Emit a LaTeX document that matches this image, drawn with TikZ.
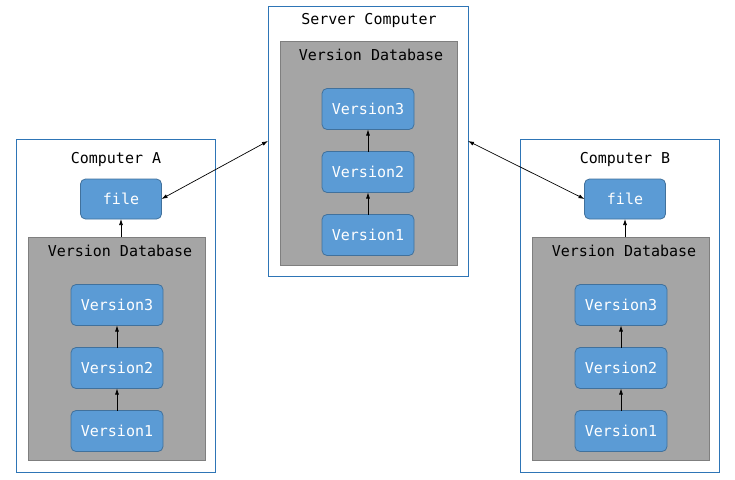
\documentclass[tikz,border=0pt]{standalone}
\usepackage{fontspec}
\setmonofont{DejaVu Sans Mono}
\usetikzlibrary{arrows.meta,positioning}

\definecolor{machineblue}{HTML}{2E75B6}
\definecolor{versionfill}{HTML}{5B9BD5}
\definecolor{versionline}{HTML}{41719C}
\definecolor{dbfill}{HTML}{A5A5A5}
\definecolor{dbline}{HTML}{7F7F7F}

\begin{document}
\begin{tikzpicture}[
    x=1pt, y=-1pt,
    node distance=22pt,
    every node/.style={font=\ttfamily\fontsize{15}{18}\selectfont, outer sep=0pt},
    machine/.style={
      rectangle, draw=machineblue, line width=0.8pt, fill=white,
      anchor=north west, minimum width=200pt
    },
    vdb/.style={
      rectangle, draw=dbline, line width=0.8pt, fill=dbfill,
      anchor=north west, minimum width=177pt
    },
    version/.style={
      rectangle, rounded corners=5pt, draw=versionline, line width=0.8pt,
      fill=versionfill, text=white, minimum width=92pt, minimum height=41pt,
      inner sep=0pt
    },
    link/.style={-{Latex[length=6pt,width=4pt]}, line width=0.7pt, draw=black},
    sync/.style={{Latex[length=6pt,width=4pt]}-{Latex[length=6pt,width=4pt]}, line width=0.7pt, draw=black}
  ]
    \useasboundingbox (0,0) rectangle (735,479);

    % server
    \node[machine, minimum height=270pt] (server) at (268,6) {};
    \node (servertitle) at (369,20) {Server Computer};
    \node[vdb, minimum height=224pt] (serverdb) at (280,41) {};
    \node (serverdbtitle) at (371,55) {Version Database};
    \node[version] (sv1) at (368,235) {Version1};
    \node[version, above=of sv1] (sv2) {Version2};
    \node[version, above=of sv2] (sv3) {Version3};
    \draw[link] (sv1) -- (sv2);
    \draw[link] (sv2) -- (sv3);

    % computer A
    \node[machine, minimum width=199pt, minimum height=333pt] (compA) at (16,139) {};
    \node (compAtitle) at (116,159) {Computer A};
    \node[version, minimum width=81pt, minimum height=40pt] (fileA) at (121,199) {file};
    \node[vdb, minimum height=223pt] (dbA) at (28,237) {};
    \node (dbAtitle) at (120,251) {Version Database};
    \node[version] (av1) at (117,431) {Version1};
    \node[version, above=of av1] (av2) {Version2};
    \node[version, above=of av2] (av3) {Version3};
    \draw[link] (av1) -- (av2);
    \draw[link] (av2) -- (av3);
    \draw[link] (fileA |- dbA.north) -- (fileA);

    % computer B
    \node[machine, minimum width=199pt, minimum height=333pt] (compB) at (520,139) {};
    \node (compBtitle) at (625,159) {Computer B};
    \node[version, minimum width=81pt, minimum height=40pt] (fileB) at (625,199) {file};
    \node[vdb, minimum height=223pt] (dbB) at (532,237) {};
    \node (dbBtitle) at (624,251) {Version Database};
    \node[version] (bv1) at (621,431) {Version1};
    \node[version, above=of bv1] (bv2) {Version2};
    \node[version, above=of bv2] (bv3) {Version3};
    \draw[link] (bv1) -- (bv2);
    \draw[link] (bv2) -- (bv3);
    \draw[link] (fileB |- dbB.north) -- (fileB);

    % sync with server
    \draw[sync] (fileA.east) -- (server.west);
    \draw[sync] (server.east) -- (fileB.west);
  \end{tikzpicture}
\end{document}
